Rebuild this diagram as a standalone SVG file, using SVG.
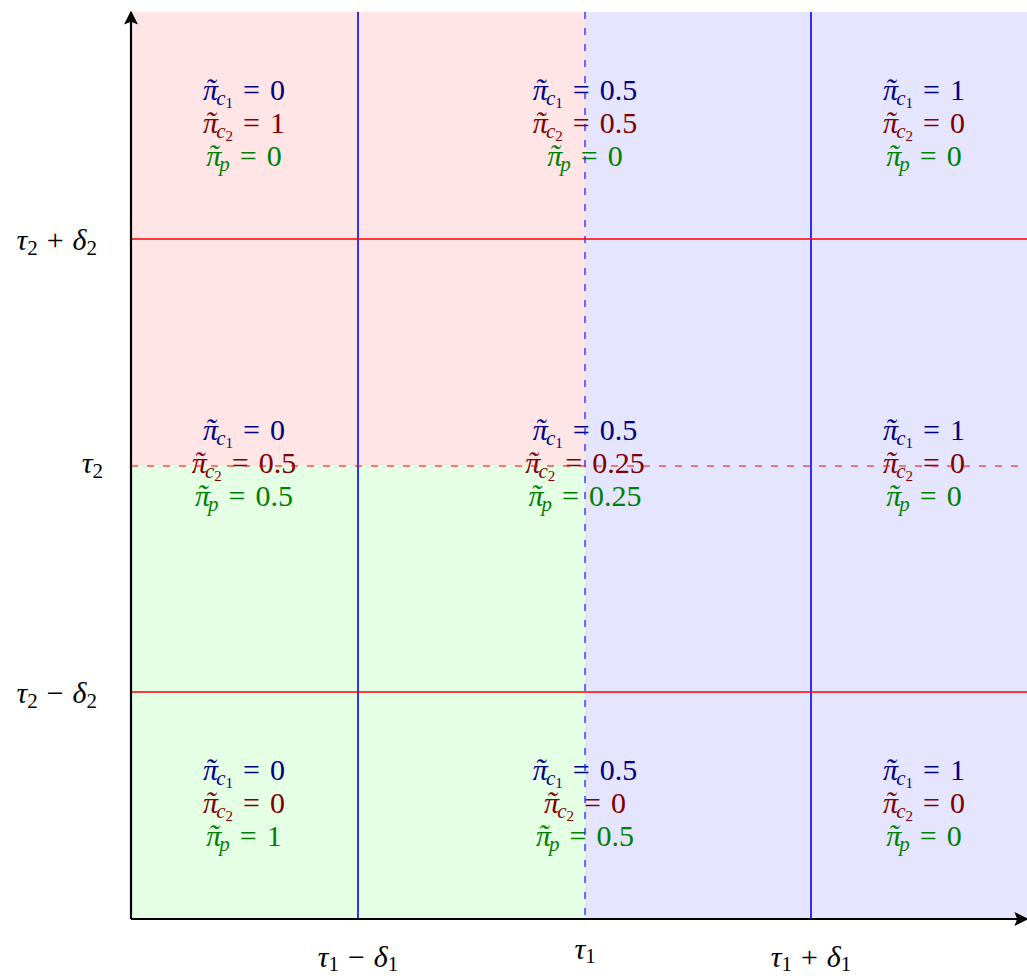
<svg xmlns="http://www.w3.org/2000/svg" width="1027" height="979" viewBox="0 0 1027 979">
<defs>
<style>
text{font-family:"Liberation Serif","DejaVu Serif",serif;font-size:30px;text-anchor:middle}
.i{font-style:italic}
.s{font-size:21px}
.ss{font-size:15px}
.b{fill:#000080}
.r{fill:#800000}
.g{fill:#008000}
.k{fill:#000}
.vl{stroke:#0000ff;stroke-width:1.6;fill:none}
.hl{stroke:#ff0000;stroke-width:1.6;fill:none}
.d{stroke-width:1.1;stroke-dasharray:7 9}
.ax{stroke:#000;stroke-width:2.2;fill:none}
</style>
<marker id="arr" viewBox="0 0 10 10" refX="9" refY="5" markerWidth="14" markerHeight="14" markerUnits="userSpaceOnUse" orient="auto">
<path d="M0,0 L10,5 L0,10 L2,5 Z" fill="#000"/>
</marker>
</defs>
<rect width="1027" height="979" fill="#fff"/>
<g id="regions">
<rect x="131" y="12" width="454" height="454" fill="#ffe5e5"/>
<rect x="131" y="466" width="454" height="453" fill="#e5ffe5"/>
<rect x="585" y="12" width="442" height="907" fill="#e5e5ff"/>
</g>
<g id="cell-top-left">
<text x="244" y="100" class="b"><tspan class="i">π</tspan><tspan class="i" dx="-13" dy="-1">˜</tspan><tspan class="s i" dx="1" dy="6">c</tspan><tspan class="ss" dy="3">1</tspan><tspan dx="10" dy="-8">=</tspan><tspan dx="10">0</tspan></text>
<text x="244" y="133" class="r"><tspan class="i">π</tspan><tspan class="i" dx="-13" dy="-1">˜</tspan><tspan class="s i" dx="1" dy="6">c</tspan><tspan class="ss" dy="3">2</tspan><tspan dx="10" dy="-8">=</tspan><tspan dx="10">1</tspan></text>
<text x="244" y="166" class="g"><tspan class="i">π</tspan><tspan class="i" dx="-13" dy="-1">˜</tspan><tspan class="s i" dx="1" dy="6">p</tspan><tspan dx="10" dy="-5">=</tspan><tspan dx="10">0</tspan></text>
</g>
<g id="cell-top-mid">
<text x="585" y="100" class="b"><tspan class="i">π</tspan><tspan class="i" dx="-13" dy="-1">˜</tspan><tspan class="s i" dx="1" dy="6">c</tspan><tspan class="ss" dy="3">1</tspan><tspan dx="10" dy="-8">=</tspan><tspan dx="10">0.5</tspan></text>
<text x="585" y="133" class="r"><tspan class="i">π</tspan><tspan class="i" dx="-13" dy="-1">˜</tspan><tspan class="s i" dx="1" dy="6">c</tspan><tspan class="ss" dy="3">2</tspan><tspan dx="10" dy="-8">=</tspan><tspan dx="10">0.5</tspan></text>
<text x="585" y="166" class="g"><tspan class="i">π</tspan><tspan class="i" dx="-13" dy="-1">˜</tspan><tspan class="s i" dx="1" dy="6">p</tspan><tspan dx="10" dy="-5">=</tspan><tspan dx="10">0</tspan></text>
</g>
<g id="cell-top-right">
<text x="924" y="100" class="b"><tspan class="i">π</tspan><tspan class="i" dx="-13" dy="-1">˜</tspan><tspan class="s i" dx="1" dy="6">c</tspan><tspan class="ss" dy="3">1</tspan><tspan dx="10" dy="-8">=</tspan><tspan dx="10">1</tspan></text>
<text x="924" y="133" class="r"><tspan class="i">π</tspan><tspan class="i" dx="-13" dy="-1">˜</tspan><tspan class="s i" dx="1" dy="6">c</tspan><tspan class="ss" dy="3">2</tspan><tspan dx="10" dy="-8">=</tspan><tspan dx="10">0</tspan></text>
<text x="924" y="166" class="g"><tspan class="i">π</tspan><tspan class="i" dx="-13" dy="-1">˜</tspan><tspan class="s i" dx="1" dy="6">p</tspan><tspan dx="10" dy="-5">=</tspan><tspan dx="10">0</tspan></text>
</g>
<g id="cell-mid-left">
<text x="244" y="440" class="b"><tspan class="i">π</tspan><tspan class="i" dx="-13" dy="-1">˜</tspan><tspan class="s i" dx="1" dy="6">c</tspan><tspan class="ss" dy="3">1</tspan><tspan dx="10" dy="-8">=</tspan><tspan dx="10">0</tspan></text>
<text x="244" y="473" class="r"><tspan class="i">π</tspan><tspan class="i" dx="-13" dy="-1">˜</tspan><tspan class="s i" dx="1" dy="6">c</tspan><tspan class="ss" dy="3">2</tspan><tspan dx="10" dy="-8">=</tspan><tspan dx="10">0.5</tspan></text>
<text x="244" y="506" class="g"><tspan class="i">π</tspan><tspan class="i" dx="-13" dy="-1">˜</tspan><tspan class="s i" dx="1" dy="6">p</tspan><tspan dx="10" dy="-5">=</tspan><tspan dx="10">0.5</tspan></text>
</g>
<g id="cell-mid-mid">
<text x="585" y="440" class="b"><tspan class="i">π</tspan><tspan class="i" dx="-13" dy="-1">˜</tspan><tspan class="s i" dx="1" dy="6">c</tspan><tspan class="ss" dy="3">1</tspan><tspan dx="10" dy="-8">=</tspan><tspan dx="10">0.5</tspan></text>
<text x="585" y="473" class="r"><tspan class="i">π</tspan><tspan class="i" dx="-13" dy="-1">˜</tspan><tspan class="s i" dx="1" dy="6">c</tspan><tspan class="ss" dy="3">2</tspan><tspan dx="10" dy="-8">=</tspan><tspan dx="10">0.25</tspan></text>
<text x="585" y="506" class="g"><tspan class="i">π</tspan><tspan class="i" dx="-13" dy="-1">˜</tspan><tspan class="s i" dx="1" dy="6">p</tspan><tspan dx="10" dy="-5">=</tspan><tspan dx="10">0.25</tspan></text>
</g>
<g id="cell-mid-right">
<text x="924" y="440" class="b"><tspan class="i">π</tspan><tspan class="i" dx="-13" dy="-1">˜</tspan><tspan class="s i" dx="1" dy="6">c</tspan><tspan class="ss" dy="3">1</tspan><tspan dx="10" dy="-8">=</tspan><tspan dx="10">1</tspan></text>
<text x="924" y="473" class="r"><tspan class="i">π</tspan><tspan class="i" dx="-13" dy="-1">˜</tspan><tspan class="s i" dx="1" dy="6">c</tspan><tspan class="ss" dy="3">2</tspan><tspan dx="10" dy="-8">=</tspan><tspan dx="10">0</tspan></text>
<text x="924" y="506" class="g"><tspan class="i">π</tspan><tspan class="i" dx="-13" dy="-1">˜</tspan><tspan class="s i" dx="1" dy="6">p</tspan><tspan dx="10" dy="-5">=</tspan><tspan dx="10">0</tspan></text>
</g>
<g id="cell-bot-left">
<text x="244" y="780" class="b"><tspan class="i">π</tspan><tspan class="i" dx="-13" dy="-1">˜</tspan><tspan class="s i" dx="1" dy="6">c</tspan><tspan class="ss" dy="3">1</tspan><tspan dx="10" dy="-8">=</tspan><tspan dx="10">0</tspan></text>
<text x="244" y="813" class="r"><tspan class="i">π</tspan><tspan class="i" dx="-13" dy="-1">˜</tspan><tspan class="s i" dx="1" dy="6">c</tspan><tspan class="ss" dy="3">2</tspan><tspan dx="10" dy="-8">=</tspan><tspan dx="10">0</tspan></text>
<text x="244" y="846" class="g"><tspan class="i">π</tspan><tspan class="i" dx="-13" dy="-1">˜</tspan><tspan class="s i" dx="1" dy="6">p</tspan><tspan dx="10" dy="-5">=</tspan><tspan dx="10">1</tspan></text>
</g>
<g id="cell-bot-mid">
<text x="585" y="780" class="b"><tspan class="i">π</tspan><tspan class="i" dx="-13" dy="-1">˜</tspan><tspan class="s i" dx="1" dy="6">c</tspan><tspan class="ss" dy="3">1</tspan><tspan dx="10" dy="-8">=</tspan><tspan dx="10">0.5</tspan></text>
<text x="585" y="813" class="r"><tspan class="i">π</tspan><tspan class="i" dx="-13" dy="-1">˜</tspan><tspan class="s i" dx="1" dy="6">c</tspan><tspan class="ss" dy="3">2</tspan><tspan dx="10" dy="-8">=</tspan><tspan dx="10">0</tspan></text>
<text x="585" y="846" class="g"><tspan class="i">π</tspan><tspan class="i" dx="-13" dy="-1">˜</tspan><tspan class="s i" dx="1" dy="6">p</tspan><tspan dx="10" dy="-5">=</tspan><tspan dx="10">0.5</tspan></text>
</g>
<g id="cell-bot-right">
<text x="924" y="780" class="b"><tspan class="i">π</tspan><tspan class="i" dx="-13" dy="-1">˜</tspan><tspan class="s i" dx="1" dy="6">c</tspan><tspan class="ss" dy="3">1</tspan><tspan dx="10" dy="-8">=</tspan><tspan dx="10">1</tspan></text>
<text x="924" y="813" class="r"><tspan class="i">π</tspan><tspan class="i" dx="-13" dy="-1">˜</tspan><tspan class="s i" dx="1" dy="6">c</tspan><tspan class="ss" dy="3">2</tspan><tspan dx="10" dy="-8">=</tspan><tspan dx="10">0</tspan></text>
<text x="924" y="846" class="g"><tspan class="i">π</tspan><tspan class="i" dx="-13" dy="-1">˜</tspan><tspan class="s i" dx="1" dy="6">p</tspan><tspan dx="10" dy="-5">=</tspan><tspan dx="10">0</tspan></text>
</g>
<g id="axis-labels">
<text x="97" y="250" class="k" style="text-anchor:end"><tspan class="i">τ</tspan><tspan class="s" dy="5">2</tspan><tspan dx="9" dy="-5">+</tspan><tspan class="i" dx="9">δ</tspan><tspan class="s" dy="5">2</tspan></text>
<text x="103" y="473" class="k" style="text-anchor:end"><tspan class="i">τ</tspan><tspan class="s" dy="5">2</tspan></text>
<text x="97" y="703" class="k" style="text-anchor:end"><tspan class="i">τ</tspan><tspan class="s" dy="5">2</tspan><tspan dx="9" dy="-5">−</tspan><tspan class="i" dx="9">δ</tspan><tspan class="s" dy="5">2</tspan></text>
<text x="358" y="967" class="k"><tspan class="i">τ</tspan><tspan class="s" dy="4">1</tspan><tspan dx="9" dy="-4">−</tspan><tspan class="i" dx="9">δ</tspan><tspan class="s" dy="4">1</tspan></text>
<text x="585" y="959" class="k"><tspan class="i">τ</tspan><tspan class="s" dy="4">1</tspan></text>
<text x="811" y="967" class="k"><tspan class="i">τ</tspan><tspan class="s" dy="4">1</tspan><tspan dx="9" dy="-4">+</tspan><tspan class="i" dx="9">δ</tspan><tspan class="s" dy="4">1</tspan></text>
</g>
<g id="connectors">
<line x1="358" y1="12" x2="358" y2="919" class="vl"/>
<line x1="811" y1="12" x2="811" y2="919" class="vl"/>
<line x1="585" y1="12" x2="585" y2="919" class="vl d"/>
<line x1="131" y1="239" x2="1027" y2="239" class="hl"/>
<line x1="131" y1="692" x2="1027" y2="692" class="hl"/>
<line x1="131" y1="466" x2="1027" y2="466" class="hl d"/>
<line x1="131" y1="919" x2="1027" y2="919" class="ax" marker-end="url(#arr)"/>
<line x1="131" y1="919" x2="131" y2="12" class="ax" marker-end="url(#arr)"/>
</g>
</svg>
